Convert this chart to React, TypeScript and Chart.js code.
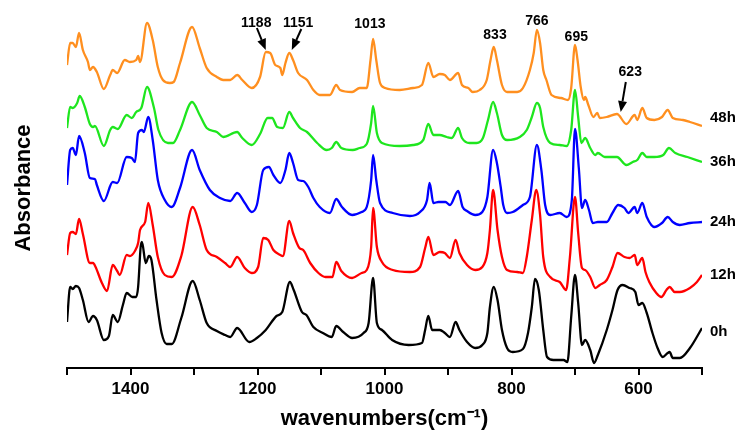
import React, { useEffect, useRef } from 'react';
import { Chart, registerables } from 'chart.js';

Chart.register(...registerables);

// ---- data: [wavenumber (cm-1), absorbance (a.u., offset-stacked)] ----
const spectrum0h: [number, number][] = [[1500,46],[1495,81],[1491,79],[1486,82],[1481,80],[1475,68],[1466,46],[1459,52],[1453,48],[1442,28],[1434,32],[1428,53],[1420,46],[1412,63],[1406,75],[1397,71],[1391,71],[1388,81],[1384,121],[1382,126],[1376,105],[1371,112],[1367,108],[1359,68],[1351,35],[1343,24],[1335,24],[1320,50],[1302,87],[1291,68],[1280,45],[1264,37],[1251,33],[1243,31],[1232,40],[1213,26],[1201,30],[1187,38],[1170,52],[1161,56],[1149,86],[1143,78],[1130,56],[1123,53],[1112,41],[1097,35],[1083,31],[1076,42],[1065,36],[1051,30],[1033,35],[1025,45],[1018,90],[1012,45],[1004,38],[988,28],[962,23],[941,25],[936,38],[931,52],[925,38],[913,38],[905,35],[897,31],[888,46],[882,38],[870,26],[857,20],[846,23],[838,35],[834,61],[828,81],[822,68],[815,38],[807,20],[798,16],[782,19],[774,35],[768,61],[763,89],[757,78],[750,38],[744,11],[734,8],[718,8],[712,6],[706,51],[700,93],[695,65],[689,23],[684,28],[676,18],[670,5],[664,13],[650,38],[641,58],[633,78],[625,83],[614,80],[605,76],[600,63],[594,65],[587,55],[578,35],[570,20],[562,11],[554,15],[551,16],[546,10],[535,10],[519,20],[500,40]];

const spectrum12h: [number, number][] = [[1500,113],[1495,135],[1491,136],[1486,134],[1481,149],[1475,134],[1464,105],[1459,105],[1455,101],[1445,85],[1437,77],[1428,103],[1421,97],[1417,93],[1406,113],[1401,112],[1393,117],[1388,125],[1385,138],[1377,146],[1372,165],[1365,143],[1357,111],[1346,93],[1335,91],[1320,112],[1302,161],[1291,143],[1280,118],[1264,111],[1251,105],[1243,101],[1232,111],[1220,100],[1209,95],[1199,101],[1191,130],[1183,128],[1175,118],[1164,113],[1160,112],[1150,147],[1144,135],[1134,120],[1128,118],[1117,105],[1104,95],[1093,91],[1082,91],[1076,106],[1068,97],[1051,90],[1036,95],[1028,98],[1021,121],[1018,160],[1012,121],[1004,106],[987,98],[960,96],[944,101],[936,120],[931,131],[923,113],[913,116],[905,115],[897,110],[888,128],[882,115],[870,103],[857,98],[846,101],[838,115],[834,138],[829,178],[822,138],[815,111],[807,98],[791,96],[782,95],[776,111],[768,148],[761,178],[755,153],[750,111],[739,91],[724,86],[714,78],[708,111],[700,171],[695,135],[689,100],[684,98],[676,91],[668,80],[661,83],[650,88],[641,101],[633,115],[622,111],[614,110],[606,113],[602,103],[594,110],[589,96],[583,86],[572,75],[564,71],[556,78],[551,81],[543,76],[535,76],[519,80],[508,86],[500,93]];

const spectrum24h: [number, number][] = [[1500,183],[1495,218],[1491,220],[1486,213],[1481,232],[1472,215],[1464,190],[1456,189],[1453,183],[1442,167],[1428,186],[1421,185],[1406,211],[1398,210],[1393,206],[1388,235],[1382,238],[1379,236],[1372,251],[1365,228],[1357,188],[1346,168],[1335,161],[1322,180],[1303,218],[1291,198],[1275,178],[1259,170],[1243,167],[1232,175],[1220,165],[1209,156],[1201,163],[1191,198],[1182,201],[1175,193],[1164,185],[1156,198],[1150,215],[1144,205],[1136,188],[1128,187],[1120,181],[1112,170],[1102,161],[1086,155],[1076,169],[1067,161],[1051,153],[1036,156],[1028,161],[1021,188],[1018,213],[1013,188],[1007,165],[987,155],[960,152],[944,156],[933,168],[929,185],[923,165],[915,166],[904,166],[897,163],[884,177],[877,161],[870,157],[857,153],[846,156],[838,171],[829,218],[823,205],[817,181],[813,163],[807,155],[798,156],[782,163],[771,171],[760,223],[753,198],[747,163],[739,153],[724,155],[713,151],[705,168],[700,239],[694,200],[689,160],[684,168],[678,158],[672,145],[664,146],[650,146],[641,155],[632,163],[622,160],[616,155],[606,161],[602,155],[594,165],[587,151],[575,141],[563,145],[554,151],[546,146],[535,143],[519,145],[500,146]];

const spectrum36h: [number, number][] = [[1500,240],[1495,261],[1491,260],[1484,265],[1480,272],[1472,261],[1464,244],[1459,241],[1456,242],[1442,222],[1432,238],[1428,241],[1420,239],[1406,253],[1398,250],[1391,256],[1383,260],[1374,281],[1363,260],[1356,238],[1341,225],[1333,225],[1322,238],[1303,266],[1291,253],[1280,240],[1264,236],[1254,231],[1232,236],[1224,230],[1209,223],[1196,234],[1184,250],[1177,250],[1169,241],[1160,240],[1150,256],[1144,250],[1133,240],[1122,236],[1106,225],[1091,218],[1083,220],[1076,226],[1068,220],[1050,218],[1039,220],[1028,224],[1021,245],[1018,262],[1012,235],[1004,225],[976,222],[955,223],[939,228],[931,244],[923,233],[913,233],[902,231],[894,230],[884,240],[878,230],[866,225],[855,225],[845,230],[837,248],[829,266],[823,255],[815,233],[807,228],[787,231],[776,238],[768,251],[760,265],[755,260],[750,241],[739,225],[724,223],[713,222],[706,238],[700,278],[695,251],[690,225],[684,230],[676,220],[668,213],[664,215],[653,211],[634,211],[619,203],[609,206],[602,208],[594,215],[587,211],[575,211],[561,213],[552,220],[542,215],[523,211],[500,206]];

const spectrum48h: [number, number][] = [[1500,303],[1495,325],[1491,325],[1486,321],[1481,335],[1475,318],[1467,306],[1464,298],[1459,301],[1453,296],[1442,279],[1432,293],[1428,298],[1421,295],[1409,308],[1401,306],[1391,308],[1388,312],[1385,306],[1374,345],[1365,328],[1357,301],[1349,288],[1338,285],[1332,286],[1322,305],[1303,341],[1291,320],[1280,300],[1264,291],[1254,288],[1243,288],[1232,293],[1224,288],[1209,280],[1196,291],[1187,316],[1180,315],[1172,303],[1164,300],[1161,293],[1156,305],[1150,315],[1144,308],[1136,295],[1122,288],[1112,278],[1102,273],[1086,273],[1076,283],[1070,278],[1051,276],[1039,280],[1028,280],[1022,308],[1018,329],[1013,308],[1007,285],[999,280],[976,278],[955,280],[941,283],[931,305],[923,291],[913,294],[905,293],[897,288],[884,295],[878,283],[868,280],[861,276],[850,278],[839,288],[833,308],[828,321],[823,308],[815,283],[807,276],[791,276],[782,280],[771,298],[765,315],[760,338],[755,325],[750,298],[745,288],[737,273],[722,270],[711,268],[706,280],[700,323],[696,308],[691,281],[686,268],[684,271],[679,263],[671,251],[665,255],[661,250],[650,251],[634,254],[619,244],[606,253],[602,248],[594,260],[587,250],[575,248],[563,251],[554,258],[546,250],[530,248],[519,246],[500,242]];

const seriesNames = ['0h', '12h', '24h', '36h', '48h'];
const seriesData = [spectrum0h, spectrum12h, spectrum24h, spectrum36h, spectrum48h];
const seriesColors = ['#000000', '#ff0000', '#0000ff', '#1ee61e', '#ff8f1f'];
const seriesLabelLevel = [36, 93, 146, 206, 250];

const xTickValuesLabelled = [1400, 1200, 1000, 800, 600];

// peak annotations: text anchor in (wavenumber, absorbance)
const peakTexts: { text: string; x: number; y: number }[] = [
  { text: '1188', x: 1202, y: 345 },
  { text: '1151', x: 1136, y: 345 },
  { text: '1013', x: 1023, y: 344 },
  { text: '833', x: 826, y: 333 },
  { text: '766', x: 760, y: 347 },
  { text: '695', x: 698, y: 331 },
  { text: '623', x: 613, y: 296 },
];
const peakArrows: { from: [number, number]; to: [number, number] }[] = [
  { from: [1201, 340], to: [1187, 318] },
  { from: [1131, 339], to: [1146, 318] },
  { from: [620, 286], to: [628, 256] },
];

const FONT = "'Liberation Sans', Arial, Helvetica, sans-serif";

const annotationPlugin = {
  id: 'peakAnnotations',
  afterDraw(chart: any) {
    const { ctx, scales, chartArea } = chart;
    const xs = scales.x;
    const ys = scales.y;
    ctx.save();
    ctx.fillStyle = '#000';
    ctx.strokeStyle = '#000';
    ctx.font = `bold 14px ${FONT}`;
    ctx.textAlign = 'center';
    ctx.textBaseline = 'middle';
    peakTexts.forEach((p) => {
      ctx.fillText(p.text, xs.getPixelForValue(p.x), ys.getPixelForValue(p.y));
    });
    peakArrows.forEach((a) => {
      const x1 = xs.getPixelForValue(a.from[0]);
      const y1 = ys.getPixelForValue(a.from[1]);
      const x2 = xs.getPixelForValue(a.to[0]);
      const y2 = ys.getPixelForValue(a.to[1]);
      const ang = Math.atan2(y2 - y1, x2 - x1);
      const headLen = 11;
      const headW = 4.5;
      const bx = x2 - headLen * Math.cos(ang);
      const by = y2 - headLen * Math.sin(ang);
      ctx.lineWidth = 2;
      ctx.beginPath();
      ctx.moveTo(x1, y1);
      ctx.lineTo(bx, by);
      ctx.stroke();
      ctx.beginPath();
      ctx.moveTo(x2, y2);
      ctx.lineTo(bx + headW * Math.sin(ang), by - headW * Math.cos(ang));
      ctx.lineTo(bx - headW * Math.sin(ang), by + headW * Math.cos(ang));
      ctx.closePath();
      ctx.fill();
    });
    ctx.textAlign = 'left';
    ctx.font = `bold 15px ${FONT}`;
    seriesNames.forEach((name, i) => {
      ctx.fillText(name, chartArea.right + 8, ys.getPixelForValue(seriesLabelLevel[i]));
    });
    ctx.restore();
  },
};

export default function App() {
  const canvasRef = useRef<HTMLCanvasElement | null>(null);

  useEffect(() => {
    const canvas = canvasRef.current;
    if (!canvas) return;
    const chart = new Chart(canvas, {
      type: 'line',
      data: {
        datasets: seriesData.map((d, i) => ({
          label: seriesNames[i],
          data: d.map(([x, y]) => ({ x, y })),
          borderColor: seriesColors[i],
          backgroundColor: seriesColors[i],
          borderWidth: 2.3,
          pointRadius: 0,
          fill: false,
          cubicInterpolationMode: 'monotone' as const,
        })),
      },
      options: {
        responsive: false,
        animation: false,
        devicePixelRatio: 1,
        layout: { padding: { top: 8, right: 34, left: 0, bottom: 0 } },
        plugins: { legend: { display: false }, tooltip: { enabled: false } },
        scales: {
          x: {
            type: 'linear',
            reverse: true,
            min: 500,
            max: 1500,
            ticks: {
              stepSize: 100,
              autoSkip: false,
              maxRotation: 0,
              padding: 4,
              color: '#000',
              font: { family: FONT, size: 17, weight: 'bold' },
              callback: (v: any) => (xTickValuesLabelled.includes(Number(v)) ? String(v) : ''),
            },
            grid: {
              display: true,
              drawOnChartArea: false,
              drawTicks: true,
              tickLength: 7,
              color: '#000',
              lineWidth: 2,
            },
            border: { display: true, color: '#000', width: 2 },
            title: {
              display: true,
              text: 'wavenumbers(cm\u207B\u00B9)',
              color: '#000',
              font: { family: FONT, size: 22, weight: 'bold' },
              padding: { top: 0, bottom: 2 },
            },
            afterFit: (s: any) => {
              s.height = 66;
            },
          },
          y: {
            type: 'linear',
            min: 0,
            max: 360,
            ticks: { display: false },
            grid: { display: false },
            border: { display: false },
            title: {
              display: true,
              text: 'Absorbance',
              color: '#000',
              font: { family: FONT, size: 22, weight: 'bold' },
              padding: { top: 11, bottom: 0 },
            },
            afterFit: (s: any) => {
              s.width = 67;
            },
          },
        },
      },
      plugins: [annotationPlugin],
    } as any);
    return () => chart.destroy();
  }, []);

  return (
    <div style={{ position: 'absolute', left: 0, top: 0, width: 736, height: 434, background: '#fff' }}>
      <canvas ref={canvasRef} width={736} height={434} style={{ display: 'block', width: 736, height: 434 }} />
    </div>
  );
}
